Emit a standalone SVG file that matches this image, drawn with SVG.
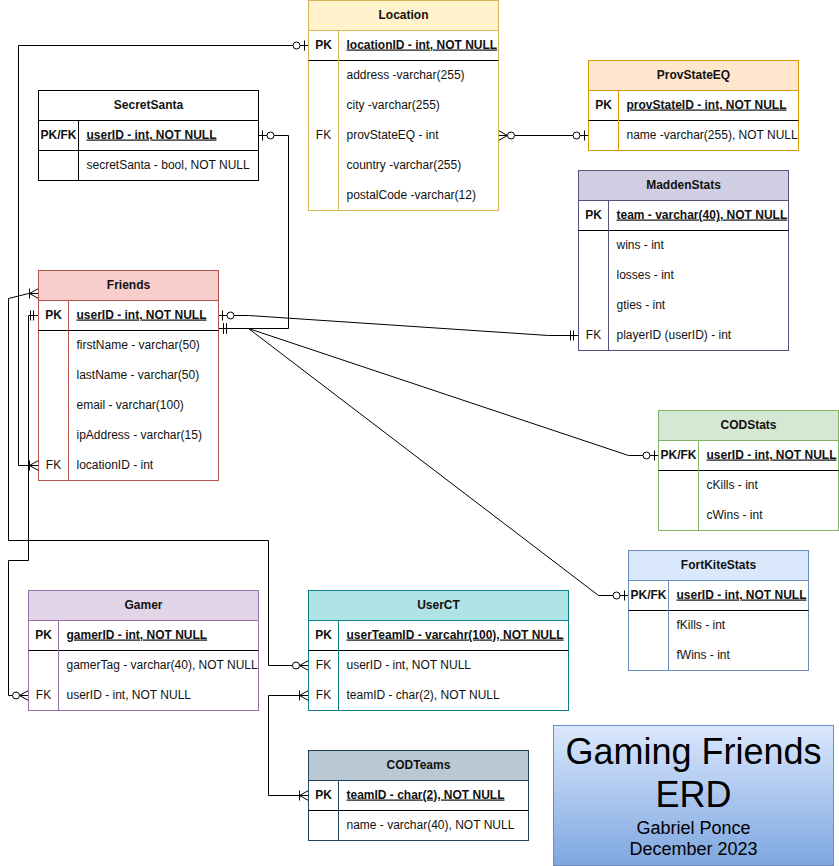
<svg xmlns="http://www.w3.org/2000/svg" width="839" height="866" viewBox="0 0 839 866">
<style>
text{font-family:"Liberation Sans",Arial,sans-serif;font-size:12px;fill:#111}
.h{font-weight:bold;text-anchor:middle}
.k{text-anchor:middle}
.kb{text-anchor:middle;font-weight:bold}
.pk{font-weight:bold;text-decoration:underline}
.sep{stroke:#000;stroke-width:1}
.c{fill:none;stroke:#000;stroke-width:1}
.t1{font-size:36px;text-anchor:middle;fill:#000}
.t2{font-size:18px;text-anchor:middle;fill:#000}
</style>
<defs>
<linearGradient id="tg" x1="0" y1="0" x2="0" y2="1">
<stop offset="0" stop-color="#dae8fc"/>
<stop offset="1" stop-color="#7ea6e0"/>
</linearGradient>
<marker id="mandOne" viewBox="-20 -10 24 20" refX="0" refY="0" markerWidth="24" markerHeight="20" markerUnits="userSpaceOnUse" orient="auto-start-reverse" overflow="visible">
<path d="M-5,-5V5M-8,-5V5" fill="none" stroke="#000"/>
</marker>
<marker id="zeroOne" viewBox="-20 -10 24 20" refX="0" refY="0" markerWidth="24" markerHeight="20" markerUnits="userSpaceOnUse" orient="auto-start-reverse" overflow="visible">
<path d="M-4,-5V5" fill="none" stroke="#000"/>
<circle cx="-12" cy="0" r="3.5" fill="#fff" stroke="#000"/>
</marker>
<marker id="zeroMany" viewBox="-20 -10 24 20" refX="0" refY="0" markerWidth="24" markerHeight="20" markerUnits="userSpaceOnUse" orient="auto-start-reverse" overflow="visible">
<path d="M0,-5L-9,0L0,5" fill="none" stroke="#000"/>
<circle cx="-12.5" cy="0" r="3.5" fill="#fff" stroke="#000"/>
</marker>
<marker id="oneMany" viewBox="-20 -10 24 20" refX="0" refY="0" markerWidth="24" markerHeight="20" markerUnits="userSpaceOnUse" orient="auto-start-reverse" overflow="visible">
<path d="M0,-5L-9,0L0,5M-9,-5V5" fill="none" stroke="#000"/>
</marker>
</defs>
<rect width="839" height="866" fill="#fff"/>
<g transform="translate(0.5,0.5)">

<g id="connectors">
<path class="c" d="M308,45H18V465H38" marker-start="url(#zeroOne)" marker-end="url(#oneMany)"/>
<path class="c" d="M38,315H28V560H8V695H28" marker-start="url(#mandOne)" marker-end="url(#zeroMany)"/>
<path class="c" d="M308,665H268V540H8V298L28,293H38" marker-start="url(#zeroMany)" marker-end="url(#oneMany)"/>
<path class="c" d="M308,695H268V795H308" marker-start="url(#oneMany)" marker-end="url(#oneMany)"/>
<path class="c" d="M498,135H588" marker-start="url(#zeroMany)" marker-end="url(#zeroOne)"/>
<path class="c" d="M258,135H288V328H218" marker-start="url(#zeroOne)" marker-end="url(#mandOne)"/>
<path class="c" d="M218,315H248L548,335H578" marker-start="url(#zeroOne)" marker-end="url(#mandOne)"/>
<path class="c" d="M218,328H248L628,455H658" marker-start="url(#mandOne)" marker-end="url(#zeroOne)"/>
<path class="c" d="M218,328H248L598,595H628" marker-start="url(#mandOne)" marker-end="url(#zeroOne)"/>
</g>

<g id="location">
<rect x="308" y="0" width="190" height="210" fill="#fff" stroke="#d6b656"/>
<rect x="308" y="0" width="190" height="30" fill="#fff2cc" stroke="#d6b656"/>
<line class="sep" x1="308" y1="60" x2="498" y2="60"/>
<line x1="338" y1="30" x2="338" y2="210" stroke="#d6b656"/>
<text class="h" x="403" y="18">Location</text>
<text class="kb" x="323" y="48">PK</text>
<text class="pk" x="346" y="48">locationID - int, NOT NULL</text>
<text x="346" y="78">address -varchar(255)</text>
<text x="346" y="108">city -varchar(255)</text>
<text class="k" x="323" y="138">FK</text>
<text x="346" y="138">provStateEQ - int</text>
<text x="346" y="168">country -varchar(255)</text>
<text x="346" y="198">postalCode -varchar(12)</text>
</g>

<g id="secretsanta">
<rect x="38" y="90" width="220" height="90" fill="#fff" stroke="#000"/>
<line x1="38" y1="120" x2="258" y2="120" stroke="#000"/>
<line class="sep" x1="38" y1="150" x2="258" y2="150"/>
<line x1="78" y1="120" x2="78" y2="180" stroke="#000"/>
<text class="h" x="148" y="108">SecretSanta</text>
<text class="kb" x="58" y="138">PK/FK</text>
<text class="pk" x="86" y="138">userID - int, NOT NULL</text>
<text x="86" y="168">secretSanta - bool, NOT NULL</text>
</g>

<g id="provstateeq">
<rect x="588" y="60" width="210" height="90" fill="#fff" stroke="#d79b00"/>
<rect x="588" y="60" width="210" height="30" fill="#ffe6cc" stroke="#d79b00"/>
<line class="sep" x1="588" y1="120" x2="798" y2="120"/>
<line x1="618" y1="90" x2="618" y2="150" stroke="#d79b00"/>
<text class="h" x="693" y="78">ProvStateEQ</text>
<text class="kb" x="603" y="108">PK</text>
<text class="pk" x="626" y="108">provStateID - int, NOT NULL</text>
<text x="626" y="138">name -varchar(255), NOT NULL</text>
</g>

<g id="maddenstats">
<rect x="578" y="170" width="210" height="180" fill="#fff" stroke="#56517e"/>
<rect x="578" y="170" width="210" height="30" fill="#d0cee2" stroke="#56517e"/>
<line class="sep" x1="578" y1="230" x2="788" y2="230"/>
<line x1="608" y1="200" x2="608" y2="350" stroke="#56517e"/>
<text class="h" x="683" y="188">MaddenStats</text>
<text class="kb" x="593" y="218">PK</text>
<text class="pk" x="616" y="218">team - varchar(40), NOT NULL</text>
<text x="616" y="248">wins - int</text>
<text x="616" y="278">losses - int</text>
<text x="616" y="308">gties - int</text>
<text class="k" x="593" y="338">FK</text>
<text x="616" y="338">playerID (userID) - int</text>
</g>

<g id="friends">
<rect x="38" y="270" width="180" height="210" fill="#fff" stroke="#b85450"/>
<rect x="38" y="270" width="180" height="30" fill="#f8cecc" stroke="#b85450"/>
<line class="sep" x1="38" y1="330" x2="218" y2="330"/>
<line x1="68" y1="300" x2="68" y2="480" stroke="#b85450"/>
<text class="h" x="128" y="288">Friends</text>
<text class="kb" x="53" y="318">PK</text>
<text class="pk" x="76" y="318">userID - int, NOT NULL</text>
<text x="76" y="348">firstName - varchar(50)</text>
<text x="76" y="378">lastName - varchar(50)</text>
<text x="76" y="408">email - varchar(100)</text>
<text x="76" y="438">ipAddress - varchar(15)</text>
<text class="k" x="53" y="468">FK</text>
<text x="76" y="468">locationID - int</text>
</g>

<g id="codstats">
<rect x="658" y="410" width="180" height="120" fill="#fff" stroke="#82b366"/>
<rect x="658" y="410" width="180" height="30" fill="#d5e8d4" stroke="#82b366"/>
<line class="sep" x1="658" y1="470" x2="838" y2="470"/>
<line x1="698" y1="440" x2="698" y2="530" stroke="#82b366"/>
<text class="h" x="748" y="428">CODStats</text>
<text class="kb" x="678" y="458">PK/FK</text>
<text class="pk" x="706" y="458">userID - int, NOT NULL</text>
<text x="706" y="488">cKills - int</text>
<text x="706" y="518">cWins - int</text>
</g>

<g id="fortkitestats">
<rect x="628" y="550" width="180" height="120" fill="#fff" stroke="#6c8ebf"/>
<rect x="628" y="550" width="180" height="30" fill="#dae8fc" stroke="#6c8ebf"/>
<line class="sep" x1="628" y1="610" x2="808" y2="610"/>
<line x1="668" y1="580" x2="668" y2="670" stroke="#6c8ebf"/>
<text class="h" x="718" y="568">FortKiteStats</text>
<text class="kb" x="648" y="598">PK/FK</text>
<text class="pk" x="676" y="598">userID - int, NOT NULL</text>
<text x="676" y="628">fKills - int</text>
<text x="676" y="658">fWins - int</text>
</g>

<g id="gamer">
<rect x="28" y="590" width="230" height="120" fill="#fff" stroke="#9673a6"/>
<rect x="28" y="590" width="230" height="30" fill="#e1d5e7" stroke="#9673a6"/>
<line class="sep" x1="28" y1="650" x2="258" y2="650"/>
<line x1="58" y1="620" x2="58" y2="710" stroke="#9673a6"/>
<text class="h" x="143" y="608">Gamer</text>
<text class="kb" x="43" y="638">PK</text>
<text class="pk" x="66" y="638">gamerID - int, NOT NULL</text>
<text x="66" y="668">gamerTag - varchar(40), NOT NULL</text>
<text class="k" x="43" y="698">FK</text>
<text x="66" y="698">userID - int, NOT NULL</text>
</g>

<g id="userct">
<rect x="308" y="590" width="260" height="120" fill="#fff" stroke="#0e8088"/>
<rect x="308" y="590" width="260" height="30" fill="#b0e3e6" stroke="#0e8088"/>
<line class="sep" x1="308" y1="650" x2="568" y2="650"/>
<line x1="338" y1="620" x2="338" y2="710" stroke="#0e8088"/>
<text class="h" x="438" y="608">UserCT</text>
<text class="kb" x="323" y="638">PK</text>
<text class="pk" x="346" y="638">userTeamID - varcahr(100), NOT NULL</text>
<text class="k" x="323" y="668">FK</text>
<text x="346" y="668">userID - int, NOT NULL</text>
<text class="k" x="323" y="698">FK</text>
<text x="346" y="698">teamID - char(2), NOT NULL</text>
</g>

<g id="codteams">
<rect x="308" y="750" width="220" height="90" fill="#fff" stroke="#23445d"/>
<rect x="308" y="750" width="220" height="30" fill="#bac8d3" stroke="#23445d"/>
<line class="sep" x1="308" y1="810" x2="528" y2="810"/>
<line x1="338" y1="780" x2="338" y2="840" stroke="#23445d"/>
<text class="h" x="418" y="768">CODTeams</text>
<text class="kb" x="323" y="798">PK</text>
<text class="pk" x="346" y="798">teamID - char(2), NOT NULL</text>
<text x="346" y="828">name - varchar(40), NOT NULL</text>
</g>

<g id="title">
<rect x="553" y="725" width="280" height="140" fill="url(#tg)" stroke="#6c8ebf"/>
<text class="t1" x="693" y="763">Gaming Friends</text>
<text class="t1" x="693" y="806">ERD</text>
<text class="t2" x="693" y="833">Gabriel Ponce</text>
<text class="t2" x="693" y="854">December 2023</text>
</g>

</g>
</svg>
